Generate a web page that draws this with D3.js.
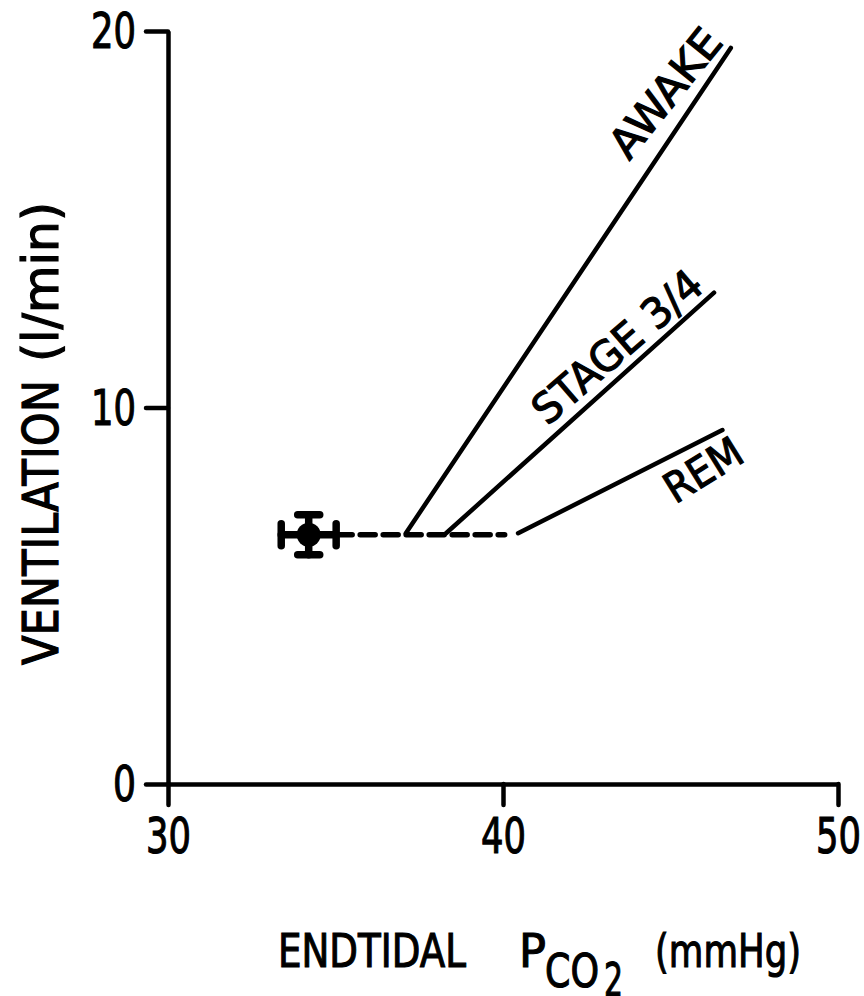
<!DOCTYPE html>
<html>
<head>
<meta charset="utf-8">
<script src="https://cdn.jsdelivr.net/npm/d3@7"></script>
<style>
  html, body { margin: 0; padding: 0; background: #fff; }
  svg text { font-family: "DejaVu Sans", sans-serif; fill: #000; stroke: #000; stroke-width: 1.2px; }
</style>
</head>
<body>
<div id="chart"></div>
<script>
// ventilatory response to CO2 in different sleep states
const xTicks = [30, 40, 50];
const yTicks = [0, 10, 20];

const baseline = { pco2: 34.2, vent: 6.62, pco2Err: 0.82, ventErr: 0.53 };
const thresholdLine = [35.05, 40.05];  // dashed, at the baseline ventilation

const stageNames = ["AWAKE", "STAGE 3/4", "REM"];
const stageStart = [[37.1, 6.66], [38.3, 6.66], [40.45, 6.66]];
const stageEnd = [[46.8, 19.55], [46.3, 13.05], [46.55, 9.4]];

document.addEventListener("DOMContentLoaded", function () {
    let width = 864, height = 996;

    let svg = d3.select("#chart")
        .append("svg")
        .attr("width", width)
        .attr("height", height);

    let x = d3.scaleLinear().domain([30, 50]).range([168, 838]);
    let y = d3.scaleLinear().domain([0, 20]).range([784, 31]);

    let xAxis = d3.axisBottom(x).tickValues(xTicks).tickSize(21).tickSizeOuter(0).tickPadding(12);
    let yAxis = d3.axisLeft(y).tickValues(yTicks).tickSize(22).tickSizeOuter(0).tickPadding(10);

    let gx = svg.append("g").attr("transform", `translate(0,${y(0)})`).call(xAxis);
    let gy = svg.append("g").attr("transform", `translate(${x(30)},0)`).call(yAxis);

    [gx, gy].forEach(g => {
        g.attr("font-family", null).attr("font-size", null);
        g.select(".domain").attr("stroke", "#000").attr("stroke-width", 4.5);
        g.selectAll(".tick line").attr("stroke", "#000").attr("stroke-width", 4.5).attr("stroke-linecap", "round");
        g.selectAll(".tick text")
            .attr("fill", "#000")
            .style("font-size", "50px")
            .attr("textLength", d => d === 0 ? 23 : 45)
            .attr("lengthAdjust", "spacingAndGlyphs");
    });
    gx.selectAll(".tick text").attr("dy", "0.72em");
    gy.selectAll(".tick text").attr("dy", "0.33em");

    // axis titles
    let yTitle = svg.append("g").attr("transform", "translate(58,0) rotate(-90)");
    yTitle.append("text")
        .attr("x", -665).attr("y", 0)
        .attr("textLength", 285).attr("lengthAdjust", "spacingAndGlyphs")
        .style("font-size", "49px")
        .text("VENTILATION");
    yTitle.append("text")
        .attr("x", -362).attr("y", 0)
        .attr("textLength", 160).attr("lengthAdjust", "spacingAndGlyphs")
        .style("font-size", "49px")
        .text("(l/min)");

    let xTitleParts = [
        { s: "ENDTIDAL", x: 278, y: 967, len: 188 },
        { s: "P", x: 519, y: 967, len: 27 },
        { s: "CO", x: 545, y: 987, len: 54 },
        { s: "2", x: 604, y: 996, len: 19 },
        { s: "(mmHg)", x: 655, y: 967, len: 146 }
    ];
    svg.selectAll(".xtitle").data(xTitleParts).enter().append("text")
        .attr("class", "xtitle")
        .attr("x", d => d.x).attr("y", d => d.y)
        .attr("textLength", d => d.len).attr("lengthAdjust", "spacingAndGlyphs")
        .style("font-size", "47px")
        .text(d => d.s);

    // dashed threshold line
    svg.append("line")
        .attr("x1", x(thresholdLine[0])).attr("x2", x(thresholdLine[1]))
        .attr("y1", y(baseline.vent)).attr("y2", y(baseline.vent))
        .attr("stroke", "#000").attr("stroke-width", 5.5)
        .attr("stroke-dasharray", "15,8").attr("stroke-linecap", "round");

    // baseline point with error bars
    let cx = x(baseline.pco2), cy = y(baseline.vent);
    let xl = x(baseline.pco2 - baseline.pco2Err), xr = x(baseline.pco2 + baseline.pco2Err);
    let yb = y(baseline.vent - baseline.ventErr), yt = y(baseline.vent + baseline.ventErr);
    let errs = [
        [xl, cy, xr, cy],
        [cx, yb, cx, yt],
        [xl, cy - 11, xl, cy + 11],
        [xr, cy - 11, xr, cy + 11],
        [cx - 11, yb, cx + 11, yb],
        [cx - 11, yt, cx + 11, yt]
    ];
    svg.selectAll(".err").data(errs).enter().append("line")
        .attr("class", "err")
        .attr("x1", d => d[0]).attr("y1", d => d[1])
        .attr("x2", d => d[2]).attr("y2", d => d[3])
        .attr("stroke", "#000").attr("stroke-width", 7.5).attr("stroke-linecap", "round");
    svg.append("circle").attr("cx", cx).attr("cy", cy).attr("r", 12).attr("fill", "#000");

    // response lines
    let stages = stageNames.map((name, i) => ({
        name: name,
        x0: x(stageStart[i][0]), y0: y(stageStart[i][1]),
        x1: x(stageEnd[i][0]), y1: y(stageEnd[i][1])
    }));

    svg.selectAll(".stage").data(stages).enter().append("line")
        .attr("class", "stage")
        .attr("x1", d => d.x0).attr("y1", d => d.y0)
        .attr("x2", d => d.x1).attr("y2", d => d.y1)
        .attr("stroke", "#000").attr("stroke-width", 4.5).attr("stroke-linecap", "round");

    // labels along the lines: fraction along line, perpendicular offset, extra tilt
    let labelPos = [
        { t: 1.0, off: -8, tilt: 5, len: 152 },
        { t: 0.99, off: -8, tilt: 1, len: 210 },
        { t: 1.02, off: 38, tilt: -5, len: 84 }
    ];

    svg.selectAll(".stage-label").data(stages).enter().append("text")
        .attr("class", "stage-label")
        .attr("transform", (d, i) => {
            let p = labelPos[i];
            let px = d.x0 + (d.x1 - d.x0) * p.t, py = d.y0 + (d.y1 - d.y0) * p.t;
            let a = Math.atan2(d.y1 - d.y0, d.x1 - d.x0) * 180 / Math.PI + p.tilt;
            return `translate(${px},${py}) rotate(${a})`;
        })
        .attr("y", (d, i) => labelPos[i].off)
        .attr("text-anchor", "end")
        .attr("textLength", (d, i) => labelPos[i].len)
        .attr("lengthAdjust", "spacingAndGlyphs")
        .style("font-size", "42px")
        .text(d => d.name);
});
</script>
</body>
</html>
